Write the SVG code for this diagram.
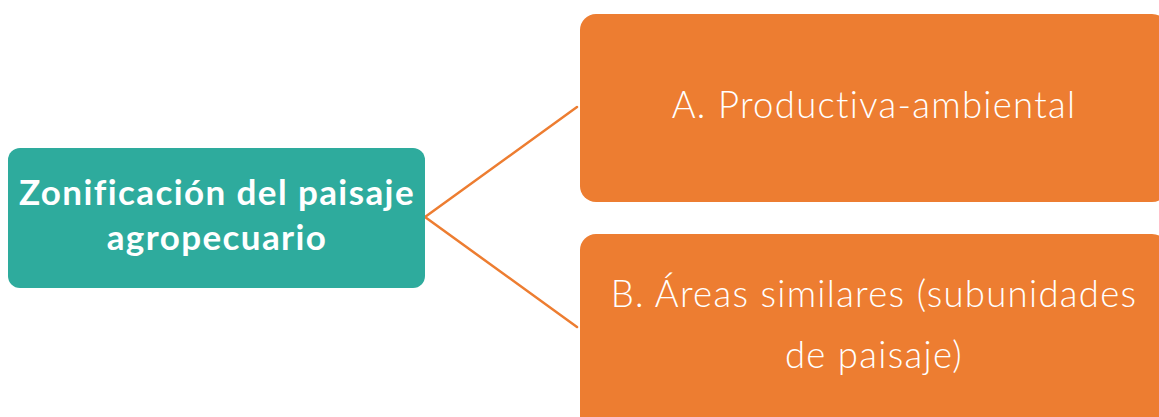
<svg xmlns="http://www.w3.org/2000/svg" width="1159" height="417" viewBox="0 0 1159 417">
  <style>
    .root { fill: #2EAB9D; }
    .leaf { fill: #ED7D31; }
    .root-label { font-family: "Lato", "Liberation Sans", sans-serif; font-weight: 700; font-size: 35px; letter-spacing: 1.4px; fill: #FFFFFF; text-anchor: middle; }
    .leaf-label { font-family: "Lato", "Liberation Sans", sans-serif; font-weight: 300; font-size: 36.5px; letter-spacing: 1.3px; fill: #FFFFFF; text-anchor: middle; }
    .link { stroke: #ED7D31; stroke-width: 2.5; fill: none; stroke-linecap: round; }
  </style>
  <rect width="1159" height="417" fill="#FFFFFF"/>
  <g id="connectors">
    <line class="link" x1="425" y1="217" x2="577" y2="107"/>
    <line class="link" x1="425" y1="217" x2="577" y2="327"/>
  </g>
  <g id="node-zonificacion">
    <rect class="root" x="8" y="148" width="417" height="140" rx="12"/>
    <text class="root-label" x="217" y="205">Zonificación del paisaje</text>
    <text class="root-label" x="217" y="250">agropecuario</text>
  </g>
  <g id="node-productiva">
    <rect class="leaf" x="580" y="14" width="588" height="188" rx="16"/>
    <text class="leaf-label" x="874" y="118">A. Productiva-ambiental</text>
  </g>
  <g id="node-areas">
    <rect class="leaf" x="580" y="234" width="588" height="200" rx="16"/>
    <text class="leaf-label" x="874" y="307">B. Áreas similares (subunidades</text>
    <text class="leaf-label" x="874" y="368">de paisaje)</text>
  </g>
</svg>
